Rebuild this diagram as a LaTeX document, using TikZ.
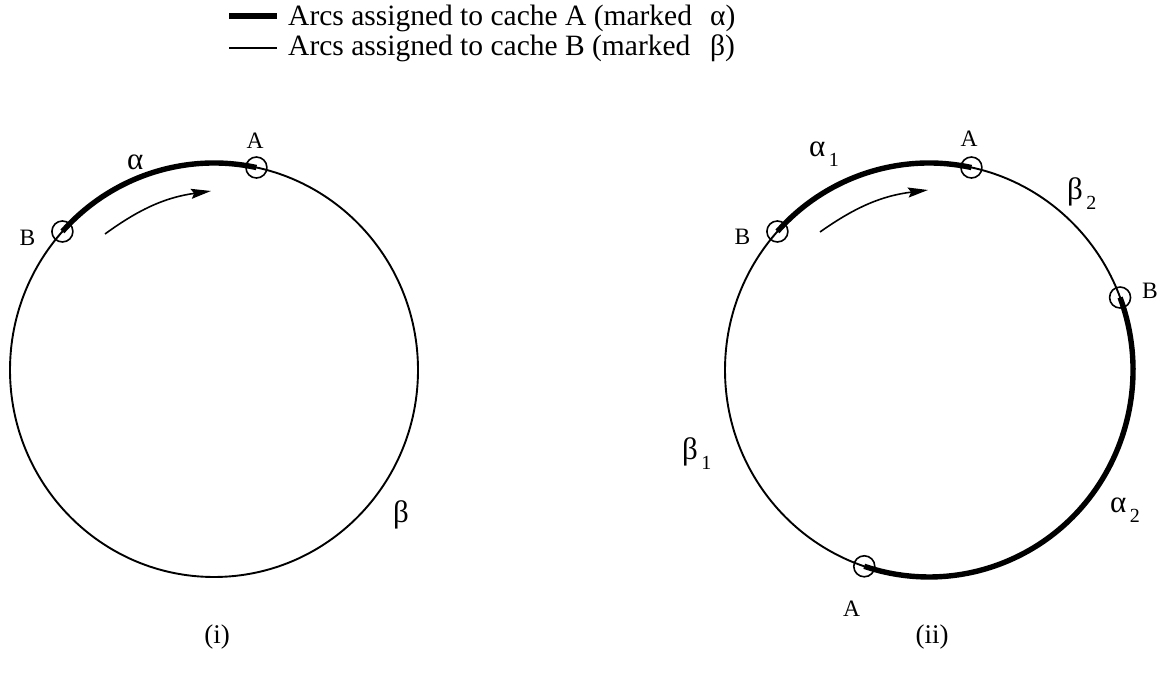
\documentclass[tikz,border=0pt]{standalone}
\usepackage{fontspec}
\setmainfont{Liberation Serif}
\usetikzlibrary{arrows.meta}
\begin{document}
\begin{tikzpicture}[x=1pt,y=1pt,
  thinarc/.style={line width=1.9pt},
  thickarc/.style={line width=5.4pt},
  marker/.style={circle,draw,line width=1.6pt,minimum size=21pt,inner sep=0pt},
  lbl/.style={font=\fontsize{23.5}{23.5}\selectfont,inner sep=0pt},
  greek/.style={font=\fontsize{31}{31}\selectfont,inner sep=0pt,anchor=base west},
  leg/.style={font=\fontsize{29.5}{29.5}\selectfont,inner sep=0pt,anchor=base west},
  captext/.style={font=\fontsize{27}{27}\selectfont,inner sep=0pt},
  flow/.style={line width=1.6pt,-{Stealth[length=20pt,width=10pt,inset=3pt]}}]
\newcommand{\sbs}[1]{\raisebox{-10pt}{\fontsize{20}{20}\selectfont\,#1}}
\useasboundingbox (0,0) rectangle (1162,674);

% legend
\coordinate (l1a) at (229,658);
\coordinate (l1b) at (277,658);
\coordinate (l2a) at (229,626);
\coordinate (l2b) at (277,626);
\draw[thickarc] (l1a) -- (l1b);
\draw[line width=1.4pt] (l2a) -- (l2b);
\node[leg] (t1) at (288,648) {Arcs assigned to cache A (marked};
\node[leg] (t2) at (288,618) {Arcs assigned to cache B (marked};
\node[leg] (t1g) at (710,648) {α)};
\node[leg] (t2g) at (710,618) {β)};

% ---------- circle (i)
\coordinate (Lc) at (214,304);
\draw[thinarc] (Lc) ellipse [x radius=204, y radius=207];
\draw[thickarc] ([shift={(138:204 and 207)}]Lc) arc[start angle=138,end angle=78,x radius=204,y radius=207];
\node[marker] (LB) at ([shift={(138:204 and 207)}]Lc) {};
\node[marker] (LA) at ([shift={(78:204 and 207)}]Lc) {};
\coordinate (La1) at (105,440);
\coordinate (La2) at (211,483);
\draw[flow] (La1) to[bend left=14] (La2);
\node[lbl] (LBt) at (27.5,436) {B};
\node[lbl] (LAt) at (255,533) {A};
\node[greek] (Lal) at (127,504) {α};
\node[greek] (Lbe) at (393,151) {β};
\node[captext] (Li) at (217,37) {(i)};

% ---------- circle (ii)
\coordinate (Rc) at (929,304);
\draw[thinarc] (Rc) ellipse [x radius=204, y radius=207];
\draw[thickarc] ([shift={(138:204 and 207)}]Rc) arc[start angle=138,end angle=78,x radius=204,y radius=207];
\draw[thickarc] ([shift={(20.5:204 and 207)}]Rc) arc[start angle=20.5,end angle=-108.5,x radius=204,y radius=207];
\node[marker] (RB1) at ([shift={(138:204 and 207)}]Rc) {};
\node[marker] (RA1) at ([shift={(78:204 and 207)}]Rc) {};
\node[marker] (RB2) at ([shift={(20.5:204 and 207)}]Rc) {};
\node[marker] (RA2) at ([shift={(-108.5:204 and 207)}]Rc) {};
\coordinate (Ra1) at (820,442);
\coordinate (Ra2) at (928,484);
\draw[flow] (Ra1) to[bend left=14] (Ra2);
\node[lbl] (RB1t) at (742.5,437.5) {B};
\node[lbl] (RA1t) at (969,535) {A};
\node[lbl] (RB2t) at (1150,383) {B};
\node[lbl] (RA2t) at (851.5,65.5) {A};
\node[greek] (Ra1l) at (809,517) {α\sbs{1}};
\node[greek] (Rb2l) at (1067,474) {β\sbs{2}};
\node[greek] (Rb1l) at (682,214) {β\sbs{1}};
\node[greek] (Ra2l) at (1110,161) {α\sbs{2}};
\node[captext] (Rii) at (932,37) {(ii)};
\end{tikzpicture}
\end{document}
